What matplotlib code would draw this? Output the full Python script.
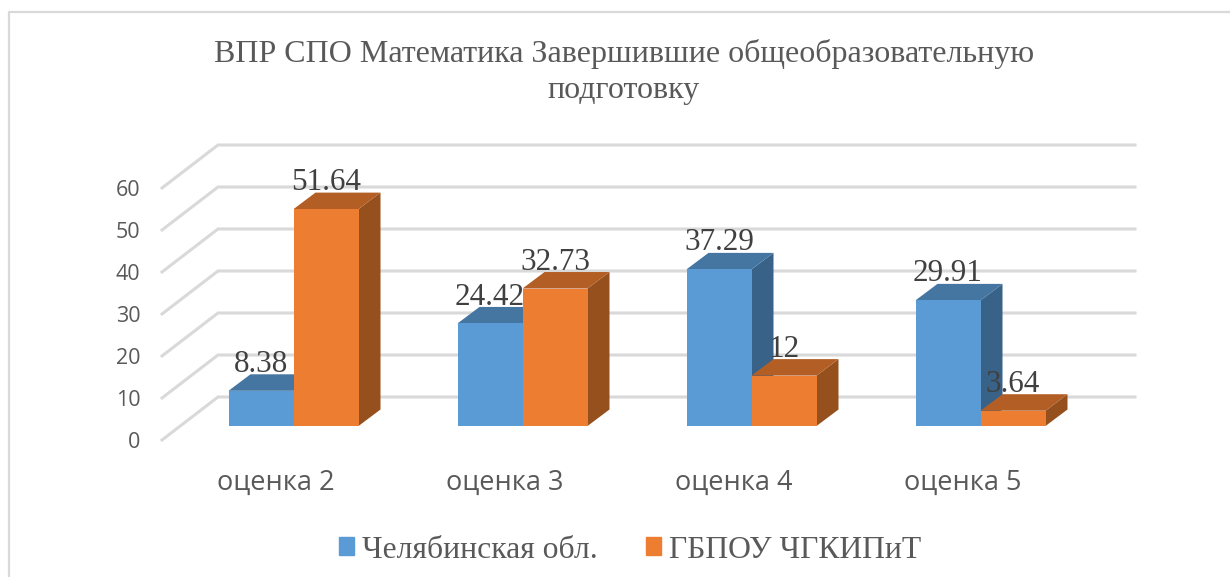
import matplotlib
matplotlib.use("Agg")
import matplotlib.pyplot as plt
from matplotlib.lines import Line2D
from matplotlib.patches import Patch
from matplotlib.transforms import ScaledTranslation

categories = ["оценка 2", "оценка 3", "оценка 4", "оценка 5"]
region = [8.38, 24.42, 37.29, 29.91]
college = [51.64, 32.73, 12, 3.64]
value_labels_region = ["8.38", "24.42", "37.29", "29.91"]
value_labels_college = ["51.64", "32.73", "12", "3.64"]
series_names = ["Челябинская обл.", "ГБПОУ ЧГКИПиТ"]
yticks = [0, 10, 20, 30, 40, 50, 60]
title = "ВПР СПО Математика Завершившие общеобразовательную\nподготовку"

W, H = 1230, 577
px_x = 229.0   # pixels per category
px_y = 4.2     # pixels per unit
bar_w = 65 / px_x
depth_x = 22 / px_x
depth_y = 16.5 / px_y

fig = plt.figure(figsize=(W / 100, H / 100), dpi=100)
# chart frame, only top and left are visible in the crop
fig.add_artist(Line2D([9 / W, 9 / W, 1], [0, 1 - 11.5 / H, 1 - 11.5 / H], color="#D9D9D9", lw=1.6))

ax = fig.add_axes([162 / W, (H - 426) / H, 973 / W, 286 / H])
ax.patch.set_visible(False)
ax.set_xlim((162 - 293.5) / px_x, (1135 - 293.5) / px_x)
ax.set_ylim(0, 286 / px_y)
for s in ax.spines.values():
    s.set_visible(False)

# walls: slanted floor part, then the line along the back wall
x0 = ax.get_xlim()[0]
x1 = ax.get_xlim()[1]
back_x = x0 + 56 / px_x
for v in yticks:
    ax.plot([x0, back_x, x1], [v - 14 / px_y, v + 29 / px_y, v + 29 / px_y],
            color="#D9D9D9", lw=2.2, clip_on=False, zorder=1, solid_joinstyle="miter")


def bar3d(left, val, front, top, side, z):
    ax.fill([left + bar_w, left + bar_w + depth_x, left + bar_w + depth_x, left + bar_w],
            [0, depth_y, val + depth_y, val], color=side, lw=0, clip_on=False, zorder=z)
    ax.fill([left, left + depth_x, left + bar_w + depth_x, left + bar_w],
            [val, val + depth_y, val + depth_y, val], color=top, lw=0, clip_on=False, zorder=z)
    ax.bar(left, val, bar_w, align="edge", color=front, lw=0, clip_on=False, zorder=z)


for i in range(len(categories)):
    bar3d(i - bar_w, region[i], "#5B9BD5", "#4575A1", "#386288", 2 + i * 2)
    bar3d(i, college[i], "#ED7D31", "#B35E24", "#95501D", 3 + i * 2)

for i in range(len(categories)):
    for left, val, lab in [(i - bar_w, region[i], value_labels_region[i]),
                           (i, college[i], value_labels_college[i])]:
        ax.annotate(lab, (left + bar_w / 2, val), xytext=(0, 13.6), textcoords="offset points",
                    ha="center", va="baseline", fontsize=22.4, family="Liberation Serif",
                    color="#404040", zorder=20, annotation_clip=False)

ax.set_xticks(range(len(categories)), categories, family="Open Sans", fontsize=19.5, color="#595959")
ax.set_yticks(yticks, [str(v) for v in yticks], family="Open Sans", fontsize=15.5, color="#595959")
ax.tick_params(axis="both", length=0)
ax.tick_params(axis="x", pad=31)
ax.tick_params(axis="y", pad=15.5)
# labels sit on the front edge of the floor, not under the bars
shift_y = ScaledTranslation(0, -0.14, fig.dpi_scale_trans)
for lab in ax.get_yticklabels():
    lab.set_transform(lab.get_transform() + shift_y)
shift_x = ScaledTranslation(-0.18, 0, fig.dpi_scale_trans)
for lab in ax.get_xticklabels():
    lab.set_transform(lab.get_transform() + shift_x)

fig.text(624 / W, 1 - 72 / H, title, ha="center", va="center", fontsize=23, linespacing=1.33,
         family="Liberation Serif", color="#595959")

handles = [Patch(color="#5B9BD5"), Patch(color="#ED7D31")]
fig.legend(handles, series_names, loc="center", bbox_to_anchor=(630 / W, 1 - 550 / H), ncol=2,
           frameon=False, handlelength=0.5, handleheight=0.5, handletextpad=0.25, columnspacing=1.5,
           prop={"family": "Liberation Serif", "size": 22.8}, labelcolor="#595959")

fig.savefig("out.png", dpi=100)
